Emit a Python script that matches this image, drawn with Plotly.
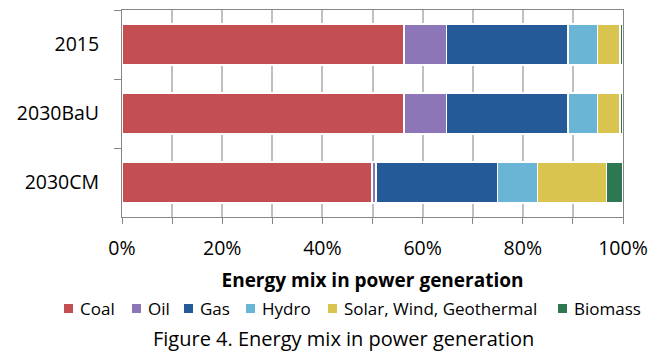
import plotly.graph_objects as go

# Scenarios (top to bottom) and generation shares (% of total)
scenarios = ["2015", "2030BaU", "2030CM"]
sources = ["Coal", "Oil", "Gas", "Hydro", "Solar, Wind, Geothermal", "Biomass"]
coal = [56.3, 56.3, 49.9]
oil = [8.5, 8.5, 0.8]
gas = [24.2, 24.2, 24.2]
hydro = [5.9, 5.9, 8.0]
renewables = [4.5, 4.5, 13.8]
biomass = [0.6, 0.6, 3.3]
shares = [coal, oil, gas, hydro, renewables, biomass]
x_ticks = [0, 20, 40, 60, 80, 100]

colors = ["#C44F53", "#8C76B7", "#255A98", "#6AB4D5", "#D9C450", "#2E7753"]

W, H = 662, 353
L, R, T, B = 122, 39, 10, 136
FONT = "Open Sans, Noto Sans, sans-serif"
AXIS_GREY = "#868686"
GRID_GREY = "#C0C0C0"

fig = go.Figure()
for name, vals, col in zip(sources, shares, colors):
    fig.add_trace(go.Bar(
        name=name, y=scenarios, x=vals, orientation="h",
        marker=dict(color=col, line=dict(color="white", width=1.5)),
        showlegend=False,
    ))

# pixel -> paper coordinate helpers
pw, ph = W - L - R, H - T - B
def px(x):
    return (x - L) / pw
def py(y):
    return (H - B - y) / ph

# Legend row: square swatch followed by label
legend_text_left = [78, 146, 198, 260, 342, 572]
legend_y = 308.5
swatch = 9
shapes = []
annotations = []
for name, col, tx in zip(sources, colors, legend_text_left):
    sx = tx - 14
    shapes.append(dict(
        type="rect", xref="paper", yref="paper",
        x0=px(sx), x1=px(sx + swatch),
        y0=py(legend_y + swatch / 2), y1=py(legend_y - swatch / 2),
        fillcolor=col, line=dict(width=0),
    ))
    annotations.append(dict(
        text=name, xref="paper", yref="paper", x=px(tx), y=py(legend_y),
        xanchor="left", yanchor="middle", showarrow=False,
        font=dict(family=FONT, size=17, color="#000000"),
    ))

annotations.append(dict(
    text="Figure 4. Energy mix in power generation",
    xref="paper", yref="paper", x=px(343.5), y=py(338),
    xanchor="center", yanchor="middle", showarrow=False,
    font=dict(family=FONT, size=20, color="#000000"),
))

fig.update_layout(
    width=W, height=H,
    margin=dict(l=L, r=R, t=T, b=B),
    paper_bgcolor="white", plot_bgcolor="white",
    barmode="stack", bargap=0.4,
    font=dict(family=FONT, color="#000000"),
    shapes=shapes, annotations=annotations,
    showlegend=False,
)

fig.update_xaxes(
    range=[0, 100], tickvals=x_ticks, ticktext=[f"{v}%" for v in x_ticks],
    showgrid=True, gridcolor=GRID_GREY, gridwidth=2,
    ticks="outside", ticklen=6, tickcolor=AXIS_GREY, tickwidth=1,
    minor=dict(dtick=10, showgrid=True, gridcolor=GRID_GREY, gridwidth=2,
               ticks="outside", ticklen=6, tickcolor=AXIS_GREY),
    showline=True, linecolor=AXIS_GREY, linewidth=1, mirror=True,
    tickfont=dict(family=FONT, size=19.5),
    ticklabelstandoff=8,
    title=dict(text="<b>Energy mix in power generation</b>",
               font=dict(family=FONT, size=19), standoff=13),
    zeroline=False, fixedrange=True,
)
fig.update_yaxes(
    categoryorder="array", categoryarray=scenarios, autorange="reversed",
    showline=True, linecolor=AXIS_GREY, linewidth=1, mirror=True,
    ticks="outside", ticklen=7, tickcolor=AXIS_GREY, tickson="boundaries",
    tickfont=dict(family=FONT, size=19.5),
    ticklabelstandoff=18,
    showgrid=False, fixedrange=True,
)

fig.write_html("out.html")
